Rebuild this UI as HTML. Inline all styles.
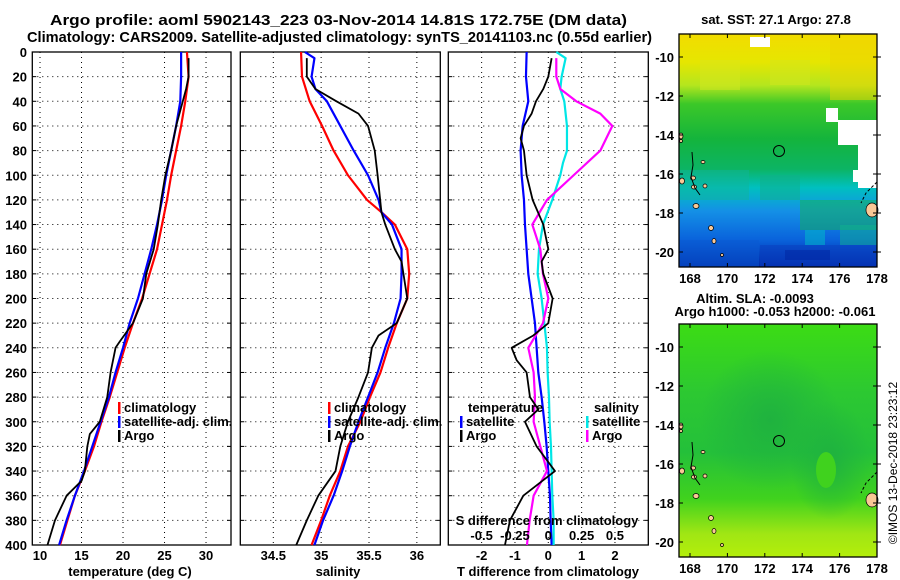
<!DOCTYPE html>
<html><head><meta charset="utf-8">
<style>
html,body{margin:0;padding:0;background:#fff;}
svg{display:block;font-family:"Liberation Sans",sans-serif;font-weight:bold;}
</style></head>
<body>
<svg id="fig" width="900" height="580" viewBox="0 0 900 580" xmlns="http://www.w3.org/2000/svg">
<defs>
<linearGradient id="sstGrad" x1="0" y1="0" x2="0" y2="1">
<stop offset="0" stop-color="#f2dc00"/>
<stop offset="0.12" stop-color="#e6e600"/>
<stop offset="0.22" stop-color="#b4e61e"/>
<stop offset="0.30" stop-color="#3cc828"/>
<stop offset="0.45" stop-color="#14b43c"/>
<stop offset="0.58" stop-color="#0cb464"/>
<stop offset="0.66" stop-color="#00c0c0"/>
<stop offset="0.76" stop-color="#1490e6"/>
<stop offset="0.88" stop-color="#0a64dc"/>
<stop offset="1" stop-color="#0028a8"/>
</linearGradient>
<linearGradient id="slaGrad" x1="0" y1="0" x2="0" y2="1">
<stop offset="0" stop-color="#3cdc14"/>
<stop offset="0.3" stop-color="#2cc832"/>
<stop offset="0.55" stop-color="#24c03a"/>
<stop offset="0.75" stop-color="#40d21e"/>
<stop offset="0.9" stop-color="#a0e614"/>
<stop offset="1" stop-color="#b4ee0a"/>
</linearGradient>
<radialGradient id="slaDark" cx="0.5" cy="0.5" r="0.5">
<stop offset="0" stop-color="#1eb040" stop-opacity="0.9"/>
<stop offset="1" stop-color="#1eb040" stop-opacity="0"/>
</radialGradient>
</defs>

<g font-size="15">
<text x="50" y="25" textLength="577" lengthAdjust="spacingAndGlyphs">Argo profile: aoml 5902143_223 03-Nov-2014 14.81S 172.75E (DM data)</text>
<text x="27" y="42" textLength="625" lengthAdjust="spacingAndGlyphs">Climatology: CARS2009. Satellite-adjusted climatology: synTS_20141103.nc (0.55d earlier)</text>
</g>

<g id="p1"></g>
<g id="p2"></g>
<g id="p3"></g>

<g>
<text x="776" y="24" font-size="13" text-anchor="middle">sat. SST: 27.1 Argo: 27.8</text>
<rect x="679" y="34" width="198" height="233" fill="url(#sstGrad)"/>
<g id="sstCells"></g>
<rect x="750" y="37" width="20" height="10" fill="#fff"/>
<rect x="826" y="108" width="12" height="14" fill="#fff"/>
<rect x="838" y="120" width="39" height="25" fill="#fff"/>
<rect x="858" y="136" width="19" height="52" fill="#fff"/>
<rect x="853" y="170" width="24" height="12" fill="#fff"/>
<g id="sstIslands"></g>
<circle cx="779" cy="151" r="5.5" fill="none" stroke="#000" stroke-width="1"/>
<rect x="679" y="34" width="198" height="233" fill="none" stroke="#000" stroke-width="1.3"/>
<g id="sstAxes"></g>
</g>

<g>
<text x="755" y="303" font-size="13" text-anchor="middle">Altim. SLA: -0.0093</text>
<text x="775" y="316" font-size="13" text-anchor="middle">Argo h1000: -0.053 h2000: -0.061</text>
<rect x="679" y="324" width="198" height="233" fill="url(#slaGrad)"/>
<ellipse cx="770" cy="420" rx="70" ry="70" fill="url(#slaDark)"/>
<ellipse cx="830" cy="460" rx="40" ry="60" fill="url(#slaDark)"/>
<ellipse cx="826" cy="470" rx="10" ry="18" fill="#40d21e"/>
<g id="slaIslands"></g>
<circle cx="779" cy="441" r="5.5" fill="none" stroke="#000" stroke-width="1"/>
<rect x="679" y="324" width="198" height="233" fill="none" stroke="#000" stroke-width="1.3"/>
<g id="slaAxes"></g>
</g>
<text transform="translate(897,463) rotate(-90)" font-size="12" font-weight="normal" text-anchor="middle">©IMOS 13-Dec-2018 23:23:12</text>
</svg>

<script>
const tDepthClim = [0,20,40,60,80,100,120,140,160,180,200,220,240,260,280,300,320,340,360,380,400];
const tempClim = [27.7,27.9,27.5,27.0,26.4,25.8,25.3,24.7,24.1,23.2,22.3,21.2,20.2,19.3,18.4,17.4,16.5,15.4,14.2,13.3,12.4];
const tempSat  = [27.0,27.0,26.9,26.4,25.8,25.2,24.7,24.1,23.4,22.6,21.8,20.8,20.0,19.1,18.3,17.3,16.3,15.3,14.2,13.2,12.3];
const tDepthArgo = [5,20,30,40,60,80,100,120,140,160,180,200,220,235,240,260,280,300,310,320,340,348,360,380,400];
const tempArgo = [27.9,27.9,27.6,27.2,26.4,25.8,25.1,24.6,24.2,23.7,22.8,22.4,21.2,19.6,19.1,18.5,18.1,17.2,16.0,15.7,15.4,15.0,13.2,11.8,10.9];

const sDepthClim = [0,20,40,60,80,100,120,130,140,160,180,200,220,240,260,280,300,320,340,360,380,400];
const salClim = [34.79,34.80,34.88,35.01,35.13,35.28,35.48,35.63,35.77,35.90,35.92,35.90,35.79,35.70,35.62,35.51,35.41,35.28,35.20,35.09,35.00,34.90];
const sDepthSat = [0,5,20,30,40,60,80,100,120,130,140,160,180,200,220,240,260,280,300,320,340,360,380,400];
const salSat = [34.83,34.93,34.90,34.94,35.06,35.20,35.34,35.49,35.60,35.63,35.74,35.84,35.84,35.83,35.76,35.67,35.59,35.49,35.39,35.30,35.22,35.13,35.02,34.93];
const sDepthArgo = [5,20,30,40,50,60,80,100,130,140,160,170,180,200,220,230,240,260,280,300,320,340,360,380,400];
const salArgo = [34.85,34.85,34.94,35.16,35.39,35.49,35.56,35.59,35.63,35.67,35.77,35.84,35.86,35.90,35.79,35.60,35.53,35.49,35.39,35.28,35.20,35.15,34.97,34.85,34.74];

const dDepthTSat = [0,20,40,60,80,100,120,140,160,180,200,220,240,260,280,300,320,340,360,380,400];
const dTempSat = [-0.65,-0.67,-0.6,-0.77,-0.83,-0.8,-0.73,-0.7,-0.65,-0.6,-0.5,-0.4,-0.35,-0.3,-0.2,-0.12,-0.05,0,0.05,0.07,0.1];
const dDepthTArgo = [5,20,30,40,50,60,70,80,100,120,140,160,170,180,200,220,230,240,250,260,280,290,300,320,340,360,380,400];
const dTempArgo = [0.1,0.0,-0.15,-0.37,-0.5,-0.73,-0.83,-0.73,-0.65,-0.47,-0.15,0.0,-0.2,-0.15,0.13,0.0,-0.45,-1.1,-0.95,-0.65,-0.55,-0.3,-0.7,-0.35,0.2,-0.75,-1.15,-1.3];
const dDepthSSat = [0,5,20,30,40,60,80,90,100,120,140,160,180,200,220,240,260,280,300,320,340,360,380,400];
const dSalSat = [0.06,0.13,0.1,0.09,0.12,0.14,0.14,0.11,0.09,0.03,-0.04,-0.07,-0.08,-0.05,-0.03,-0.01,-0.005,0.005,0.01,0.02,0.025,0.03,0.04,0.04];
const dDepthSArgo = [5,20,30,40,50,60,80,100,120,140,160,180,200,220,240,260,280,300,320,340,360,380,400];
const dSalArgo = [0.06,0.06,0.09,0.21,0.39,0.48,0.39,0.19,-0.01,-0.12,-0.06,-0.04,0,-0.04,-0.15,-0.11,-0.1,-0.11,-0.06,-0.01,-0.11,-0.14,-0.16];

const depthTicks = [0,20,40,60,80,100,120,140,160,180,200,220,240,260,280,300,320,340,360,380,400];
const tempTicks = [10,15,20,25,30];
const salTicks = [34.5,35,35.5,36];
const dTempTicks = [-2,-1,0,1,2];
const dTempTickLabels = ['-2','-1','0','1','2'];
const dSalTicks = [-0.5,-0.25,0,0.25,0.5];
const dSalTickLabels = ['-0.5','-0.25','0','0.25','0.5'];
const lonTicks = [168,170,172,174,176,178];
const latTicks = [-10,-12,-14,-16,-18,-20];

const NS = 'http://www.w3.org/2000/svg';
function mk(parent, tag, attrs, txt){
  const e = document.createElementNS(NS, tag);
  for (const k in attrs) e.setAttribute(k, attrs[k]);
  if (txt !== undefined) e.textContent = txt;
  parent.appendChild(e);
  return e;
}
const Y0 = 52, Y1 = 545, DMAX = 400;
const yScale = d => Y0 + d / DMAX * (Y1 - Y0);

function panel(g, x0, x1, vmin, vmax){
  return v => x0 + (v - vmin) / (vmax - vmin) * (x1 - x0);
}
function gridAndFrame(g, x0, x1, xs, xticks, name){
  depthTicks.forEach(d => {
    const y = yScale(d);
    if (d > 0 && d < 400) {
      const l = mk(g, 'line', {x1:x0, x2:x1, y1:y, y2:y, stroke:'#000', 'stroke-width':1, 'stroke-dasharray':'1,4'});
      
      
    }
    const t1 = mk(g, 'line', {x1:x0, x2:x0+4, y1:y, y2:y, stroke:'#000'});
    
    
    const t2 = mk(g, 'line', {x1:x1-4, x2:x1, y1:y, y2:y, stroke:'#000'});
    
    
  });
  xticks.forEach(v => {
    const x = xs(v);
    const l = mk(g, 'line', {x1:x, x2:x, y1:Y0, y2:Y1, stroke:'#000', 'stroke-width':1, 'stroke-dasharray':'1,4'});
    
    
  });
  const r = mk(g, 'rect', {x:x0, y:Y0, width:x1-x0, height:Y1-Y0, fill:'none', stroke:'#000', 'stroke-width':1.3});
  
  
}
function series(g, xs, depths, vals, color, w, name){
  const pts = depths.map((d,i) => xs(vals[i]).toFixed(2) + ',' + yScale(d).toFixed(2)).join(' ');
  const p = mk(g, 'polyline', {points:pts, fill:'none', stroke:color, 'stroke-width':w, 'stroke-linejoin':'round'});
  
  
}
function legendEntry(g, x, y, color, label, name){
  const m = mk(g, 'rect', {x:x, y:y-10, width:2.5, height:12, fill:color});
  
  
  const t = mk(g, 'text', {x:x+6, y:y, 'font-size':13}, label);
  
  
}

{
  const g = document.getElementById('p1');
  const x0 = 32.3, x1 = 231;
  const xs = panel(g, x0, x1, 9.07, 9.07 + (x1 - x0) / 8.3);
  gridAndFrame(g, x0, x1, xs, tempTicks, 'temp');
  depthTicks.forEach(d => {
    const t = mk(g, 'text', {x:27, y:yScale(d)+5, 'font-size':13, 'text-anchor':'end'}, String(d));
    
    
  });
  tempTicks.forEach(v => {
    const t = mk(g, 'text', {x:xs(v), y:560, 'font-size':13, 'text-anchor':'middle'}, String(v));
    
    
  });
  const xt = mk(g, 'text', {x:130, y:576, 'font-size':13, 'text-anchor':'middle'}, 'temperature (deg C)');
  
  
  series(g, xs, tDepthClim, tempClim, '#ff0000', 2.2, 'temp-climatology-line');
  series(g, xs, tDepthClim, tempSat, '#0000ff', 2.2, 'temp-satellite-line');
  series(g, xs, tDepthArgo, tempArgo, '#000000', 1.8, 'temp-argo-line');
  legendEntry(g, 118, 412, '#ff0000', 'climatology', 'legend-climatology');
  legendEntry(g, 118, 426, '#0000ff', 'satellite-adj. clim.', 'legend-satellite-adj');
  legendEntry(g, 118, 440, '#000000', 'Argo', 'legend-argo');
}
{
  const g = document.getElementById('p2');
  const x0 = 240.3, x1 = 440.3;
  const ppu = 95.7;
  const vmin = 34.5 - (273.3 - x0) / ppu;
  const xs = panel(g, x0, x1, vmin, vmin + (x1 - x0) / ppu);
  gridAndFrame(g, x0, x1, xs, salTicks, 'sal');
  salTicks.forEach(v => {
    const t = mk(g, 'text', {x:xs(v), y:560, 'font-size':13, 'text-anchor':'middle'}, String(v));
    
    
  });
  const xt = mk(g, 'text', {x:338, y:576, 'font-size':13, 'text-anchor':'middle'}, 'salinity');
  
  
  series(g, xs, sDepthClim, salClim, '#ff0000', 2.2, 'sal-climatology-line');
  series(g, xs, sDepthSat, salSat, '#0000ff', 2.2, 'sal-satellite-line');
  series(g, xs, sDepthArgo, salArgo, '#000000', 1.8, 'sal-argo-line');
  legendEntry(g, 328, 412, '#ff0000', 'climatology', 'legend-climatology-2');
  legendEntry(g, 328, 426, '#0000ff', 'satellite-adj. clim.', 'legend-satellite-adj-2');
  legendEntry(g, 328, 440, '#000000', 'Argo', 'legend-argo-2');
}
{
  const g = document.getElementById('p3');
  const x0 = 448.3, x1 = 648.3;
  const xs = panel(g, x0, x1, -3, 3);
  const xsS = v => xs(v * 4);
  gridAndFrame(g, x0, x1, xs, dTempTicks, 'diff');
  dTempTicks.forEach((v,i) => {
    const t = mk(g, 'text', {x:xs(v), y:560, 'font-size':13, 'text-anchor':'middle'}, dTempTickLabels[i]);
    
    
  });
  const xt = mk(g, 'text', {x:548, y:576, 'font-size':13, 'text-anchor':'middle'}, 'T difference from climatology');
  
  
  series(g, xs, dDepthTSat, dTempSat, '#0000ff', 2.2, 'dtemp-satellite-line');
  series(g, xsS, dDepthSSat, dSalSat, '#00e6e6', 2.2, 'dsal-satellite-line');
  series(g, xsS, dDepthSArgo, dSalArgo, '#ff00ff', 2.2, 'dsal-argo-line');
  series(g, xs, dDepthTArgo, dTempArgo, '#000000', 1.8, 'dtemp-argo-line');
  dSalTicks.forEach((v,i) => {
    const t = mk(g, 'text', {x:xsS(v), y:540, 'font-size':13, 'text-anchor':'middle'}, dSalTickLabels[i]);
    
    
  });
  const st = mk(g, 'text', {x:547, y:525, 'font-size':13, 'text-anchor':'middle'}, 'S difference from climatology');
  
  
  const lt = mk(g, 'text', {x:468, y:412, 'font-size':13}, 'temperature');
  
  
  legendEntry(g, 460, 426, '#0000ff', 'satellite', 'legend-temp-satellite');
  legendEntry(g, 460, 440, '#000000', 'Argo', 'legend-temp-argo');
  const ls = mk(g, 'text', {x:594, y:412, 'font-size':13}, 'salinity');
  
  
  legendEntry(g, 586, 426, '#00e6e6', 'satellite', 'legend-sal-satellite');
  legendEntry(g, 586, 440, '#ff00ff', 'Argo', 'legend-sal-argo');
}

function mapAxes(gid, top, lat10, lat20, name){
  const g = document.getElementById(gid);
  const lonX = lon => 690 + (lon - 168) * 18.7;
  const latY = lat => lat10 + (-10 - lat) * (lat20 - lat10) / 10;
  lonTicks.forEach(lon => {
    const x = lonX(lon);
    const tk = mk(g, 'line', {x1:x, x2:x, y1:top+233, y2:top+229, stroke:'#000'});
    
    
    const tk2 = mk(g, 'line', {x1:x, x2:x, y1:top, y2:top+4, stroke:'#000'});
    
    
    const t = mk(g, 'text', {x:x, y:top+249, 'font-size':13, 'text-anchor':'middle'}, String(lon));
    
    
  });
  latTicks.forEach(lat => {
    const y = latY(lat);
    const tk = mk(g, 'line', {x1:679, x2:683, y1:y, y2:y, stroke:'#000'});
    
    
    const tk2 = mk(g, 'line', {x1:873, x2:881, y1:y, y2:y, stroke:'#000'});
    
    
    const t = mk(g, 'text', {x:674, y:y+5, 'font-size':13, 'text-anchor':'end'}, String(lat));
    
    
  });
}
mapAxes('sstAxes', 34, 57, 252, 'sst');
mapAxes('slaAxes', 324, 347, 542, 'sla');

function islands(gid, dy){
  const g = document.getElementById(gid);
  const shapes = [[681,136,2,3],[681,141,1.5,1.5],[703,162,2,1.5],[682,181,2.5,3],[693,178,2.5,2],[694,187,2.5,2],[705,186,2,2],[696,206,3,2.5],[711,228,2.5,2.5],[714,241,2,2.5],[722,255,1.5,1.5],[872,210,6,7]];
  shapes.forEach(s => {
    const e = mk(g, 'ellipse', {cx:s[0], cy:s[1]+dy, rx:s[2], ry:s[3], fill:'#f9c896', stroke:'#000', 'stroke-width':0.7});
    
    
  });
  const c = mk(g, 'polyline', {points:`${692},${152+dy} ${693},${165+dy} ${691},${177+dy} ${695},${188+dy} ${700},${195+dy}`, fill:'none', stroke:'#000', 'stroke-width':1});
  
  
  const c2 = mk(g, 'polyline', {points:`${877},${182+dy} ${866},${193+dy} ${861},${203+dy}`, fill:'none', stroke:'#000', 'stroke-width':1, 'stroke-dasharray':'3,2'});
  
  
}
islands('sstIslands', 0);
islands('slaIslands', 290);

{
  const g = document.getElementById('sstCells');
  const patches = [
    [679,240,80,27,'#0a5ad2'],[760,245,117,22,'#0a3cbe'],[785,250,45,10,'#0024a0'],
    [679,170,70,30,'#10b49a'],[800,200,77,30,'#14b450'],[840,225,37,20,'#10b48c'],
    [760,175,40,25,'#10b08a'],[770,60,40,25,'#d2e61e'],[830,40,47,60,'#f0d200'],
    [700,60,40,30,'#d8e61e'],[805,230,20,15,'#00c0c8']
  ];
  patches.forEach(p => {
    const r = mk(g, 'rect', {x:p[0], y:p[1], width:p[2], height:p[3], fill:p[4], opacity:0.5});
    
    
  });
}
</script>
</body></html>
